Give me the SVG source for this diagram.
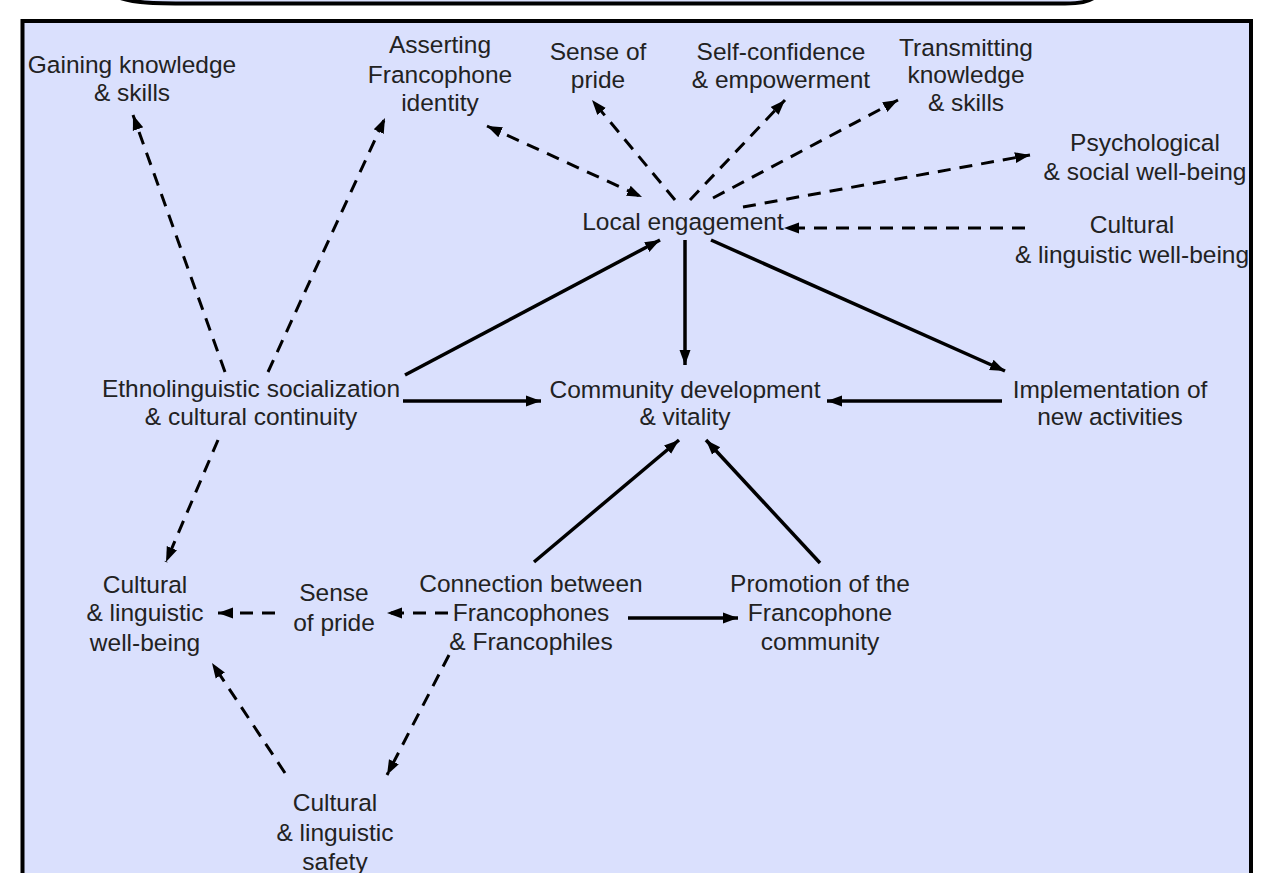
<svg xmlns="http://www.w3.org/2000/svg" width="1271" height="873" viewBox="0 0 1271 873">
<style>
text{font-family:"Liberation Sans",Arial,sans-serif;font-size:24.5px;fill:#222;text-anchor:middle}
.d{stroke:#000;stroke-width:3;fill:none;stroke-dasharray:13 9}
.s{stroke:#000;stroke-width:3.5;fill:none}
</style>
<defs>
<marker id="ah" markerUnits="userSpaceOnUse" markerWidth="16" markerHeight="14" viewBox="0 0 16 14" refX="15" refY="7" orient="auto-start-reverse">
<path d="M0,1.5 L15,7 L0,12.5 Z" fill="#000"/>
</marker>
</defs>
<rect width="1271" height="873" fill="#fff"/>
<path d="M118,-3 C132,3.5 160,3.5 200,3.5 L1065,3.5 C1080,3.5 1088,2 1095,-3" fill="#dae0fd" stroke="#000" stroke-width="4"/>
<rect x="22.5" y="21" width="1228.5" height="870" fill="#dae0fd" stroke="#000" stroke-width="4"/>
<g id="connectors">
<line class="d" x1="225" y1="372" x2="133" y2="115" marker-end="url(#ah)"/>
<line class="d" x1="268" y1="372" x2="385" y2="118" marker-end="url(#ah)"/>
<line class="d" x1="487" y1="126" x2="642" y2="197" marker-start="url(#ah)" marker-end="url(#ah)"/>
<line class="d" x1="675" y1="200" x2="592" y2="100" marker-end="url(#ah)"/>
<line class="d" x1="690" y1="200" x2="785" y2="100" marker-end="url(#ah)"/>
<line class="d" x1="713" y1="198" x2="898" y2="100" marker-end="url(#ah)"/>
<line class="d" x1="743" y1="207" x2="1030" y2="155" marker-end="url(#ah)"/>
<line class="d" x1="1025" y1="228" x2="784" y2="228" marker-end="url(#ah)"/>
<line class="d" x1="218" y1="440" x2="166" y2="562" marker-end="url(#ah)"/>
<line class="d" x1="275" y1="613" x2="218" y2="613" marker-end="url(#ah)"/>
<line class="d" x1="448" y1="613" x2="387" y2="613" marker-end="url(#ah)"/>
<line class="d" x1="449" y1="655" x2="387" y2="775" marker-end="url(#ah)"/>
<line class="d" x1="285" y1="773" x2="212" y2="663" marker-end="url(#ah)"/>
<line class="s" x1="405" y1="375" x2="660" y2="240" marker-end="url(#ah)"/>
<line class="s" x1="685" y1="240" x2="685" y2="365" marker-end="url(#ah)"/>
<line class="s" x1="711" y1="240" x2="1005" y2="371" marker-end="url(#ah)"/>
<line class="s" x1="403" y1="401" x2="541" y2="401" marker-end="url(#ah)"/>
<line class="s" x1="1002" y1="401" x2="827" y2="401" marker-end="url(#ah)"/>
<line class="s" x1="534" y1="562" x2="679" y2="440" marker-end="url(#ah)"/>
<line class="s" x1="820" y1="563" x2="706" y2="440" marker-end="url(#ah)"/>
<line class="s" x1="628" y1="618" x2="738" y2="618" marker-end="url(#ah)"/>
</g>
<g id="gaining"><text x="132" y="73">Gaining knowledge</text><text x="132" y="101">&amp; skills</text></g>
<g id="asserting"><text x="440" y="53">Asserting</text><text x="440" y="83">Francophone</text><text x="440" y="111">identity</text></g>
<g id="pride-top"><text x="598" y="60">Sense of</text><text x="598" y="88">pride</text></g>
<g id="selfconf"><text x="781" y="60">Self-confidence</text><text x="781" y="88">&amp; empowerment</text></g>
<g id="transmit"><text x="966" y="56">Transmitting</text><text x="966" y="83">knowledge</text><text x="966" y="111">&amp; skills</text></g>
<g id="psych"><text x="1145" y="151">Psychological</text><text x="1145" y="180">&amp; social well-being</text></g>
<g id="cult-right"><text x="1132" y="233">Cultural</text><text x="1132" y="263">&amp; linguistic well-being</text></g>
<g id="local"><text x="683" y="230">Local engagement</text></g>
<g id="ethno"><text x="251" y="397">Ethnolinguistic socialization</text><text x="251" y="425">&amp; cultural continuity</text></g>
<g id="community"><text x="685" y="398">Community development</text><text x="685" y="425">&amp; vitality</text></g>
<g id="implement"><text x="1110" y="398">Implementation of</text><text x="1110" y="425">new activities</text></g>
<g id="cult-left"><text x="145" y="593">Cultural</text><text x="145" y="621">&amp; linguistic</text><text x="145" y="651">well-being</text></g>
<g id="pride-low"><text x="334" y="601">Sense</text><text x="334" y="631">of pride</text></g>
<g id="connection"><text x="531" y="592">Connection between</text><text x="531" y="621">Francophones</text><text x="531" y="650">&amp; Francophiles</text></g>
<g id="promotion"><text x="820" y="592">Promotion of the</text><text x="820" y="621">Francophone</text><text x="820" y="650">community</text></g>
<g id="safety"><text x="335" y="811">Cultural</text><text x="335" y="841">&amp; linguistic</text><text x="335" y="870">safety</text></g>
</svg>
